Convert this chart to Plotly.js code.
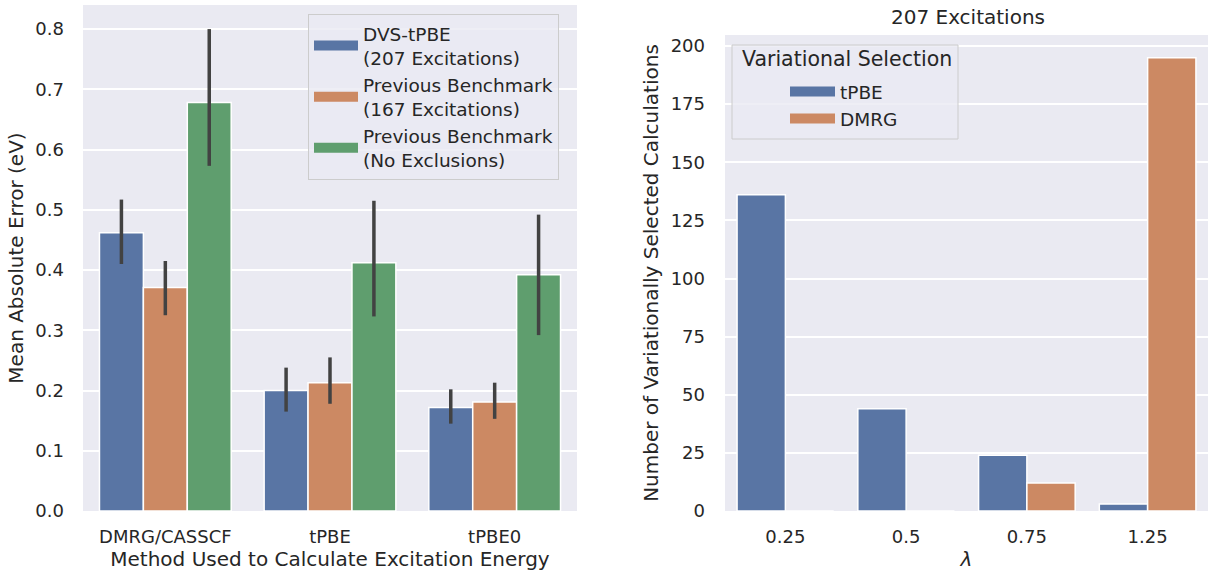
<!DOCTYPE html>
<html>
<head>
<meta charset="utf-8">
<script src="https://cdn.plot.ly/plotly-3.0.1.min.js"></script>
<style>html,body{margin:0;padding:0;background:#fff;}#chart{width:1210px;height:571px;}</style>
</head>
<body>
<div id="chart"></div>
<script>
// Left chart data
const methods = ["DMRG/CASSCF", "tPBE", "tPBE0"];
const dvsName = "DVS-tPBE<br>(207 Excitations)";
const prevName = "Previous Benchmark<br>(167 Excitations)";
const allName = "Previous Benchmark<br>(No Exclusions)";
const dvsMAE = [0.462, 0.200, 0.172];
const dvsLow = [0.410, 0.165, 0.145];
const dvsHigh = [0.517, 0.238, 0.202];
const prevMAE = [0.371, 0.213, 0.181];
const prevLow = [0.325, 0.178, 0.153];
const prevHigh = [0.415, 0.255, 0.213];
const allMAE = [0.678, 0.412, 0.392];
const allLow = [0.573, 0.323, 0.292];
const allHigh = [0.800, 0.515, 0.492];

// Right chart data
const lambdas = ["0.25", "0.5", "0.75", "1.25"];
const tpbeCount = [136, 44, 24, 3];
const dmrgCount = [0, 0, 12, 195];
const legend2Title = "Variational Selection";

const C_BLUE = "#5975a4", C_ORANGE = "#cc8963", C_GREEN = "#5f9e6e";
const TXT = "#262626", ERR = "#424242";
const FONT = "DejaVu Sans, sans-serif";

function errs(v, lo, hi, color) {
  return {type: "data", symmetric: false,
    array: hi.map((h, i) => h - v[i]),
    arrayminus: lo.map((l, i) => v[i] - l),
    color: color, thickness: 3.5, width: 0};
}
function bar(name, x, y, color, xa, ya, err) {
  const t = {type: "bar", name: name, x: x, y: y, xaxis: xa, yaxis: ya, showlegend: false,
    marker: {color: color, line: {color: "#ffffff", width: 1.5}}, hoverinfo: "x+y+name"};
  if (err) t.error_y = err;
  return t;
}
// legend-only entries drawn as wide swatches
function swatch(name, color, xa, ya, legend) {
  return {type: "scatter", mode: "lines", name: name, x: [null], y: [null], xaxis: xa, yaxis: ya,
    legend: legend, showlegend: true, line: {color: color, width: 14}, hoverinfo: "skip"};
}

const data = [
  bar(dvsName, methods, dvsMAE, C_BLUE, "x", "y", errs(dvsMAE, dvsLow, dvsHigh, ERR)),
  bar(prevName, methods, prevMAE, C_ORANGE, "x", "y", errs(prevMAE, prevLow, prevHigh, ERR)),
  bar(allName, methods, allMAE, C_GREEN, "x", "y", errs(allMAE, allLow, allHigh, ERR)),
  bar("tPBE", lambdas, tpbeCount, C_BLUE, "x2", "y2"),
  bar("DMRG", lambdas, dmrgCount, C_ORANGE, "x2", "y2"),
  swatch(dvsName, C_BLUE, "x", "y", "legend"),
  swatch(prevName, C_ORANGE, "x", "y", "legend"),
  swatch(allName, C_GREEN, "x", "y", "legend"),
  swatch("tPBE", C_BLUE, "x2", "y2", "legend2"),
  swatch("DMRG", C_ORANGE, "x2", "y2", "legend2")
];

const H = 571, W = 1210;
const axisCommon = {
  showgrid: true, gridcolor: "#ffffff", gridwidth: 1.5, zeroline: false,
  showline: false, ticks: "", tickfont: {size: 18, color: TXT, family: FONT}
};
const layout = {
  width: W, height: H,
  margin: {l: 0, r: 0, t: 0, b: 0},
  paper_bgcolor: "#ffffff", plot_bgcolor: "#eaeaf2",
  font: {family: FONT, color: TXT},
  barmode: "group", bargap: 0.2, bargroupgap: 0,
  showlegend: true,
  title: {text: "207 Excitations", font: {size: 20, color: TXT, family: FONT},
    x: 968 / W, xref: "paper", xanchor: "center", y: 1 - 17 / H, yref: "paper", yanchor: "middle"},
  xaxis: Object.assign({}, axisCommon, {
    domain: [83 / W, 577 / W], anchor: "y", showgrid: false, type: "category",
    range: [-0.5, 2.5], ticklabelstandoff: 13,
    title: {text: "Method Used to Calculate Excitation Energy", font: {size: 20, color: TXT}, standoff: 13}
  }),
  yaxis: Object.assign({}, axisCommon, {
    domain: [(H - 511) / H, (H - 5) / H], anchor: "x",
    range: [0, 0.84], dtick: 0.1, tickformat: ".1f", ticklabelstandoff: 18,
    title: {text: "Mean Absolute Error (eV)", font: {size: 20, color: TXT}, standoff: 6}
  }),
  xaxis2: Object.assign({}, axisCommon, {
    domain: [725 / W, 1208 / W], anchor: "y2", showgrid: false, type: "category",
    range: [-0.5, 3.5], ticklabelstandoff: 13,
    title: {text: "<i>λ</i>", font: {size: 20, color: TXT}, standoff: 13}
  }),
  yaxis2: Object.assign({}, axisCommon, {
    domain: [(H - 511) / H, (H - 35) / H], anchor: "x2",
    range: [0, 204.75], dtick: 25, ticklabelstandoff: 19,
    title: {text: "Number of Variationally Selected Calculations", font: {size: 20, color: TXT}, standoff: 6}
  }),
  legend: {
    x: 308 / W, y: 1 - 14 / H, xanchor: "left", yanchor: "top",
    bgcolor: "rgba(234,234,242,0.8)", bordercolor: "#cccccc", borderwidth: 1,
    font: {size: 18.5, color: TXT, family: FONT}, itemwidth: 44, tracegroupgap: 4
  },
  legend2: {
    x: 785 / W, y: 1 - 73 / H, xanchor: "left", yanchor: "top",
    bgcolor: "rgba(0,0,0,0)", borderwidth: 0,
    font: {size: 18.5, color: TXT, family: FONT}, itemwidth: 45
  },
  shapes: [{
    type: "rect", xref: "paper", yref: "paper", layer: "above",
    x0: 732 / W, x1: 958 / W, y0: 1 - 139 / H, y1: 1 - 45 / H,
    fillcolor: "rgba(234,234,242,0.8)", line: {color: "#cccccc", width: 1}
  }],
  annotations: [{
    text: legend2Title, xref: "paper", yref: "paper", x: 740 / W, y: 1 - 59 / H,
    xanchor: "left", yanchor: "middle", showarrow: false,
    font: {size: 20.5, color: TXT, family: FONT}
  }]
};

Plotly.newPlot("chart", data, layout, {displayModeBar: false, responsive: false});
</script>
</body>
</html>
